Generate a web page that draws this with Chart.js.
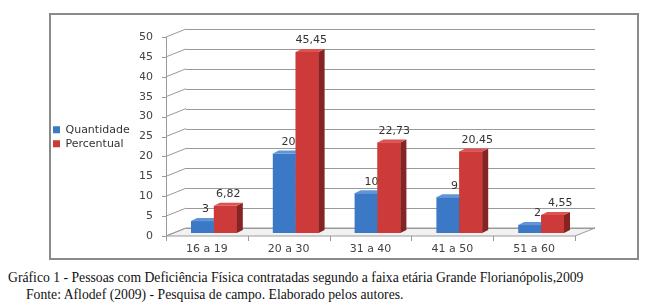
<!DOCTYPE html>
<html>
<head>
<meta charset="utf-8">
<script src="https://cdn.jsdelivr.net/npm/chart.js@4/dist/chart.umd.min.js"></script>
<style>
  body { margin: 0; background: #fff; width: 645px; height: 307px; overflow: hidden; position: relative; }
  #box { position: absolute; left: 49px; top: 13px; width: 586px; height: 243px; border: 2px solid #8a8a8a; }
  #c { position: absolute; left: 0; top: 0; }
  .cap { position: absolute; font-family: "Liberation Serif", serif; font-size: 13.7px; color: #111; white-space: nowrap; }
</style>
</head>
<body>
<div id="box"></div>
<canvas id="c" width="645" height="262"></canvas>
<div class="cap" style="left:8px; top:270px;">Gráfico 1 - Pessoas com Deficiência Física contratadas segundo a faixa etária Grande Florianópolis,2009</div>
<div class="cap" style="left:26px; top:287px;">Fonte: Aflodef (2009) - Pesquisa de campo. Elaborado pelos autores.</div>
<script>
var faixas = ['16 a 19', '20 a 30', '31 a 40', '41 a 50', '51 a 60'];
var quantidade = [3, 20, 10, 9, 2];
var percentual = [6.82, 45.45, 22.73, 20.45, 4.55];
var yTicks = [0, 5, 10, 15, 20, 25, 30, 35, 40, 45, 50];

// deslocamentos do efeito 3D (plano das barras -> frente / fundo)
var FRONT = { x: -7, y: 3 };
var BACK = { x: 13, y: -5 };
var DEPTH = { x: 6, y: -3 };

var faces = [
    { side: '#27528c', top: '#5f95da' },
    { side: '#862323', top: '#de5252' }
];

function desenhaFaces(chart, di, redesenhaFrente) {
    var ctx = chart.ctx, f = faces[di];
    var meta = chart.getDatasetMeta(di);
    ctx.save();
    meta.data.forEach(function (el, i) {
        if (redesenhaFrente) el.draw(ctx, chart.chartArea);
        var l = el.x - el.width / 2, r = el.x + el.width / 2, t = el.y, b = el.base;
        ctx.beginPath();
        ctx.moveTo(r, t); ctx.lineTo(r + DEPTH.x, t + DEPTH.y);
        ctx.lineTo(r + DEPTH.x, b + DEPTH.y); ctx.lineTo(r, b);
        ctx.closePath();
        ctx.fillStyle = f.side; ctx.fill();
        ctx.beginPath();
        ctx.moveTo(l, t); ctx.lineTo(l + DEPTH.x, t + DEPTH.y);
        ctx.lineTo(r + DEPTH.x, t + DEPTH.y); ctx.lineTo(r, t);
        ctx.closePath();
        ctx.fillStyle = f.top; ctx.fill();
        var v = chart.data.datasets[di].data[i];
        ctx.font = '11px "DejaVu Sans"';
        ctx.fillStyle = '#333';
        ctx.textAlign = 'center';
        ctx.textBaseline = 'middle';
        ctx.fillText(String(v).replace('.', ','), el.x + 3 + 1.2 * i, t - 11.5);
    });
    ctx.restore();
}

var fundo3d = {
    id: 'fundo3d',
    beforeDatasetsDraw: function (chart) {
        var ctx = chart.ctx, ca = chart.chartArea, ys = chart.scales.y;
        ctx.save();
        var y0 = ys.getPixelForValue(0);
        // piso
        ctx.beginPath();
        ctx.moveTo(ca.left + FRONT.x, y0 + FRONT.y);
        ctx.lineTo(ca.right + FRONT.x, y0 + FRONT.y);
        ctx.lineTo(ca.right + BACK.x, y0 + BACK.y);
        ctx.lineTo(ca.left + BACK.x, y0 + BACK.y);
        ctx.closePath();
        ctx.fillStyle = '#f1f1f1';
        ctx.fill();
        ctx.lineWidth = 1;
        ctx.strokeStyle = '#9a9a9a';
        ctx.stroke();
        // linhas de grade na parede do fundo
        yTicks.forEach(function (v) {
            var yp = ys.getPixelForValue(v);
            ctx.beginPath();
            ctx.moveTo(ca.left + BACK.x, Math.round(yp + BACK.y) + 0.5);
            ctx.lineTo(ca.right + BACK.x, Math.round(yp + BACK.y) + 0.5);
            ctx.moveTo(ca.left + FRONT.x, yp + FRONT.y);
            ctx.lineTo(ca.left + BACK.x, yp + BACK.y);
            ctx.moveTo(ca.left + FRONT.x - 4, Math.round(yp + FRONT.y) + 0.5);
            ctx.lineTo(ca.left + FRONT.x, Math.round(yp + FRONT.y) + 0.5);
            ctx.strokeStyle = '#9a9a9a';
            ctx.stroke();
        });
        // eixo vertical da frente
        var xf = Math.round(ca.left + FRONT.x) + 0.5;
        ctx.beginPath();
        ctx.moveTo(xf, ys.getPixelForValue(50) + FRONT.y);
        ctx.lineTo(xf, y0 + FRONT.y);
        // marcas das categorias
        for (var i = 0; i <= faixas.length; i++) {
            var xb = Math.round(ca.left + (ca.right - ca.left) * i / faixas.length + FRONT.x) + 0.5;
            ctx.moveTo(xb, y0 + FRONT.y);
            ctx.lineTo(xb, y0 + FRONT.y + 5);
        }
        ctx.strokeStyle = '#9a9a9a';
        ctx.stroke();
        ctx.restore();
    },
    afterDatasetsDraw: function (chart) {
        // azul primeiro, depois o vermelho por cima (como no Excel)
        desenhaFaces(chart, 0, false);
        desenhaFaces(chart, 1, true);
    }
};

new Chart(document.getElementById('c'), {
    type: 'bar',
    data: {
        labels: faixas,
        datasets: [
            { label: 'Quantidade', data: quantidade, backgroundColor: '#3b78c6' },
            { label: 'Percentual', data: percentual, backgroundColor: '#cc3a3a' }
        ]
    },
    options: {
        responsive: false,
        animation: false,
        layout: { padding: { left: 50, right: 63, top: 34, bottom: 6 } },
        datasets: { bar: { categoryPercentage: 0.56, barPercentage: 1 } },
        scales: {
            y: {
                min: 0, max: 50,
                ticks: { stepSize: 5, padding: 20, labelOffset: 3, color: '#444', font: { family: 'DejaVu Sans', size: 11 } },
                grid: { display: false, drawTicks: false },
                border: { display: false },
                afterFit: function (s) {
                    var lw = s.chart.legend ? s.chart.legend.width : 0;
                    s.width = 173 - 50 - lw;
                }
            },
            x: {
                ticks: { padding: 10, labelOffset: -7, color: '#444', font: { family: 'DejaVu Sans', size: 11 } },
                grid: { display: false, drawTicks: false },
                border: { display: false },
                afterFit: function (s) { s.height = 23; }
            }
        },
        plugins: {
            legend: {
                position: 'left',
                align: 'start',
                title: { display: true, text: ' ', font: { size: 11 }, padding: { top: 74, bottom: 0 } },
                labels: {
                    boxWidth: 7, boxHeight: 7, padding: 3, color: '#333',
                    font: { family: 'DejaVu Sans', size: 11 }
                }
            },
            tooltip: { enabled: false }
        }
    },
    plugins: [fundo3d]
});
</script>
</body>
</html>
